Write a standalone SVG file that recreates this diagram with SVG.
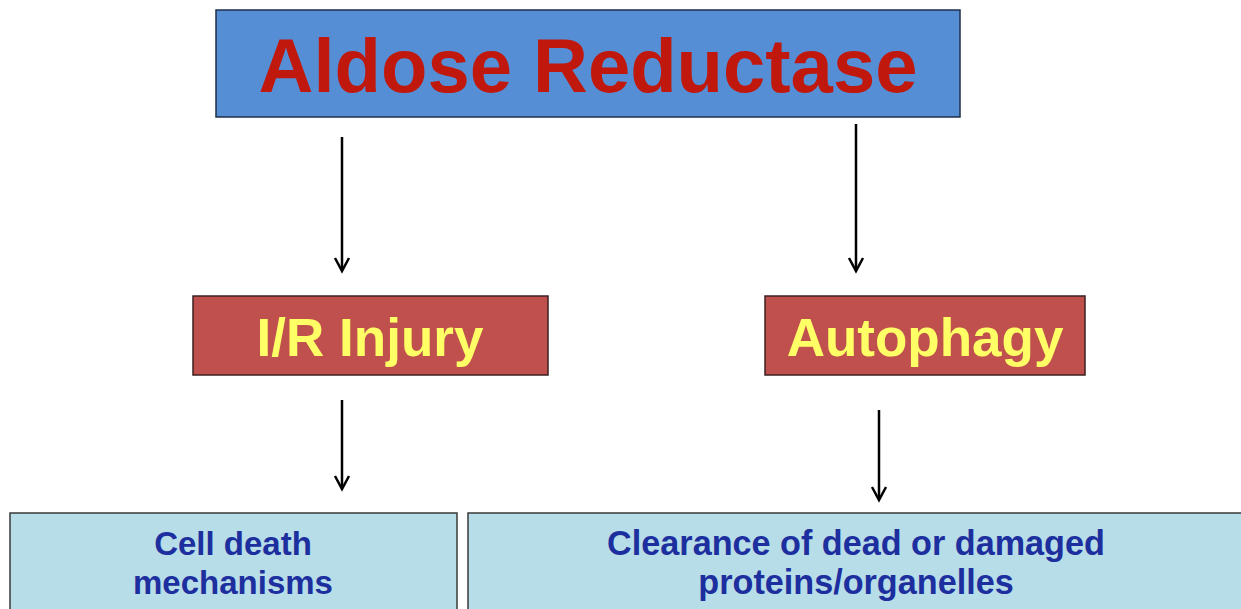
<svg xmlns="http://www.w3.org/2000/svg" width="1241" height="609" viewBox="0 0 1241 609">
<defs>
<style>
.t{font-family:"Liberation Sans",Arial,sans-serif;font-weight:bold;text-anchor:middle}
.red{fill:#c0504d;stroke:#3b2020;stroke-width:1.5}
.lb{fill:#b7dde8;stroke:#3a3a3a;stroke-width:1.5}
.bt{fill:#1d2f9e;font-size:33px}
.bt2{fill:#1d2f9e;font-size:34.2px}
.yt{fill:#ffff66;font-size:53px}
.conn line{stroke:#000;stroke-width:2.5}
.conn polyline{fill:none;stroke:#000;stroke-width:2.5}
</style>
</defs>
<rect width="1241" height="609" fill="#fff"/>
<g id="aldose-reductase">
<rect x="216" y="10" width="744" height="107" fill="#558ed5" stroke="#1f2f48" stroke-width="1.5"/>
<text class="t" x="588" y="92" font-size="76" fill="#c0180c">Aldose Reductase</text>
</g>
<g id="ir-injury">
<rect class="red" x="193" y="296" width="355" height="79"/>
<text class="t yt" x="370" y="356">I/R Injury</text>
</g>
<g id="autophagy">
<rect class="red" x="765" y="296" width="320" height="79"/>
<text class="t yt" x="925" y="356">Autophagy</text>
</g>
<g id="cell-death">
<rect class="lb" x="10" y="513" width="447" height="110"/>
<text class="t bt" x="233" y="555">Cell death</text>
<text class="t bt" x="233" y="594">mechanisms</text>
</g>
<g id="clearance">
<rect class="lb" x="468" y="513" width="790" height="110"/>
<text class="t bt2" x="856" y="555">Clearance of dead or damaged</text>
<text class="t bt2" x="856" y="594">proteins/organelles</text>
</g>
<g id="connectors" class="conn">
<line x1="342" y1="137" x2="342" y2="270"/>
<polyline points="335,258 342,271 349,258"/>
<line x1="856" y1="124" x2="856" y2="270"/>
<polyline points="849,258 856,271 863,258"/>
<line x1="342" y1="400" x2="342" y2="488"/>
<polyline points="335,476 342,489 349,476"/>
<line x1="879" y1="410" x2="879" y2="499"/>
<polyline points="872,487 879,500 886,487"/>
</g>
</svg>
